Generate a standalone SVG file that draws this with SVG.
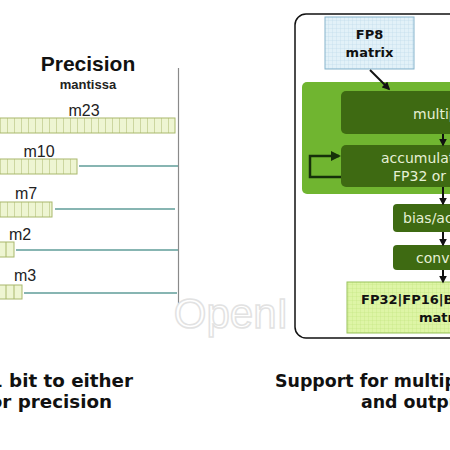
<svg xmlns="http://www.w3.org/2000/svg" width="450" height="450" viewBox="0 0 450 450">
<defs>
<style>
.bar{fill:#eef5d2;stroke:#a9b86c;stroke-width:1}
.cell{stroke:#a9b86c;stroke-width:1}
.lead{stroke:#5f9c98;stroke-width:1.5}
.ml{font-family:"Liberation Sans",Arial,sans-serif;font-size:16px;fill:#222}
.dk{fill:#3e6a12}
.dt{font-family:"DejaVu Sans",Verdana,sans-serif;font-size:14px;fill:#e6f0d6}
.ar{stroke:#111;stroke-width:2;fill:none;marker-end:url(#ah)}
.cap{font-family:"DejaVu Sans",Verdana,sans-serif;font-size:18.3px;font-weight:bold;fill:#111}
.capr{font-size:17.4px}
</style>
<marker id="ah" viewBox="0 0 10 10" refX="8" refY="5" markerWidth="4" markerHeight="4" orient="auto"><path d="M0,0L10,5L0,10z" fill="#111"/></marker>
<marker id="ahg" viewBox="0 0 10 10" refX="8" refY="5" markerWidth="4" markerHeight="4" orient="auto"><path d="M0,0L10,5L0,10z" fill="#16300a"/></marker>
<pattern id="gb" width="4" height="4" patternUnits="userSpaceOnUse"><rect width="4" height="4" fill="#e2f1f8"/><path d="M0,0H4M0,0V4" stroke="#b9d7e6" stroke-width="0.6"/></pattern>
<pattern id="gg" width="4" height="4" patternUnits="userSpaceOnUse"><rect width="4" height="4" fill="#def5a6"/><path d="M0,0H4M0,0V4" stroke="#bfe27a" stroke-width="0.6"/></pattern>
<pattern id="cells" width="7" height="20" patternUnits="userSpaceOnUse" x="0"><path d="M0,0V20" stroke="#a9b86c" stroke-width="1"/></pattern>
</defs>
<rect width="450" height="450" fill="#fff"/>

<g id="left-panel">
<text x="88" y="71" text-anchor="middle" font-family="Liberation Sans,Arial,sans-serif" font-size="21" font-weight="bold" fill="#111">Precision</text>
<text x="88" y="89" text-anchor="middle" font-family="Liberation Sans,Arial,sans-serif" font-size="13" font-weight="bold" fill="#222">mantissa</text>
<line x1="178.5" y1="68" x2="178.5" y2="306" stroke="#8a8a8a" stroke-width="1.2"/>
</g>

<g id="m23">
<text class="ml" x="84" y="116" text-anchor="middle">m23</text>
<rect class="bar" x="-1" y="118" width="176" height="15"/>
<rect x="-1" y="118" width="176" height="15" fill="url(#cells)"/>
</g>
<g id="m10">
<text class="ml" x="39" y="157" text-anchor="middle">m10</text>
<rect class="bar" x="-1" y="159" width="78" height="15"/>
<rect x="-1" y="159" width="78" height="15" fill="url(#cells)"/>
</g>
<g id="m7">
<text class="ml" x="26" y="199" text-anchor="middle">m7</text>
<rect class="bar" x="-1" y="202" width="53" height="15"/>
<rect x="-1" y="202" width="53" height="15" fill="url(#cells)"/>
</g>
<g id="m2">
<text class="ml" x="20" y="240" text-anchor="middle">m2</text>
<rect class="bar" x="-1" y="242" width="15" height="15"/>
<line class="cell" x1="6" y1="242" x2="6" y2="257"/>
</g>
<g id="m3">
<text class="ml" x="25" y="281" text-anchor="middle">m3</text>
<rect class="bar" x="-1" y="285" width="23" height="14"/>
<line class="cell" x1="6" y1="285" x2="6" y2="299"/>
<line class="cell" x1="14" y1="285" x2="14" y2="299"/>
</g>

<g id="leaders">
<line class="lead" x1="79" y1="166" x2="178" y2="166"/>
<line class="lead" x1="55" y1="209" x2="175" y2="209"/>
<line class="lead" x1="16" y1="250" x2="178" y2="250"/>
<line class="lead" x1="24" y1="293" x2="177" y2="293"/>
</g>

<text x="231" y="328" text-anchor="middle" font-family="Liberation Sans,Arial,sans-serif" font-size="42" fill="#fff" stroke="#e2e2e2" stroke-width="1.5">OpenI</text>

<g id="right-panel">
<rect x="295" y="14" width="200" height="324" rx="11" fill="none" stroke="#111" stroke-width="1.5"/>
<rect x="302" y="82" width="170" height="112" rx="5" fill="#70b530"/>
</g>

<g id="fp8">
<rect x="325" y="17" width="89" height="52" fill="url(#gb)" stroke="#86b3cc" stroke-width="1"/>
<text x="369.5" y="39" text-anchor="middle" font-family="DejaVu Sans,Verdana,sans-serif" font-size="13" font-weight="bold" fill="#111">FP8</text>
<text x="369.5" y="57" text-anchor="middle" font-family="DejaVu Sans,Verdana,sans-serif" font-size="13" font-weight="bold" fill="#111">matrix</text>
</g>

<g id="multiply">
<rect class="dk" x="341" y="91" width="150" height="43" rx="5"/>
<text class="dt" x="413" y="119">multiply</text>
</g>
<g id="accumulate">
<rect class="dk" x="341" y="145" width="150" height="42" rx="5"/>
<text class="dt" x="381" y="163">accumulate to</text>
<text class="dt" x="393" y="181">FP32 or FP16</text>
</g>
<g id="bias">
<rect class="dk" x="393" y="204" width="100" height="28" rx="4"/>
<text class="dt" x="403" y="223">bias/activation</text>
</g>
<g id="convert">
<rect class="dk" x="393" y="245" width="100" height="25" rx="4"/>
<text class="dt" x="416" y="263">convert</text>
</g>
<g id="output">
<rect x="347" y="282" width="120" height="51" fill="url(#gg)" stroke="#98c25a" stroke-width="1"/>
<text x="361" y="304" font-family="DejaVu Sans,Verdana,sans-serif" font-size="13" font-weight="bold" fill="#111">FP32|FP16|BF16|FP8</text>
<text x="419" y="322" font-family="DejaVu Sans,Verdana,sans-serif" font-size="13" font-weight="bold" fill="#111">matrix</text>
</g>

<g id="connectors">
<line class="ar" x1="370" y1="70" x2="389" y2="89"/>
<line class="ar" x1="443" y1="134" x2="443" y2="145"/>
<path d="M341,177H310V156H339" stroke="#16300a" stroke-width="2.5" fill="none" marker-end="url(#ahg)"/>
<line class="ar" x1="443" y1="187" x2="443" y2="204"/>
<line class="ar" x1="443" y1="232" x2="443" y2="245"/>
<line class="ar" x1="443" y1="270" x2="443" y2="282"/>
</g>

<g id="captions">
<text class="cap" x="133" y="387" text-anchor="end">Allocate 1 bit to either</text>
<text class="cap" x="112" y="408" text-anchor="end">range or precision</text>
<text class="cap capr" x="275" y="387">Support for multiple accumulator</text>
<text class="cap capr" x="361" y="408">and output types</text>
</g>
</svg>
